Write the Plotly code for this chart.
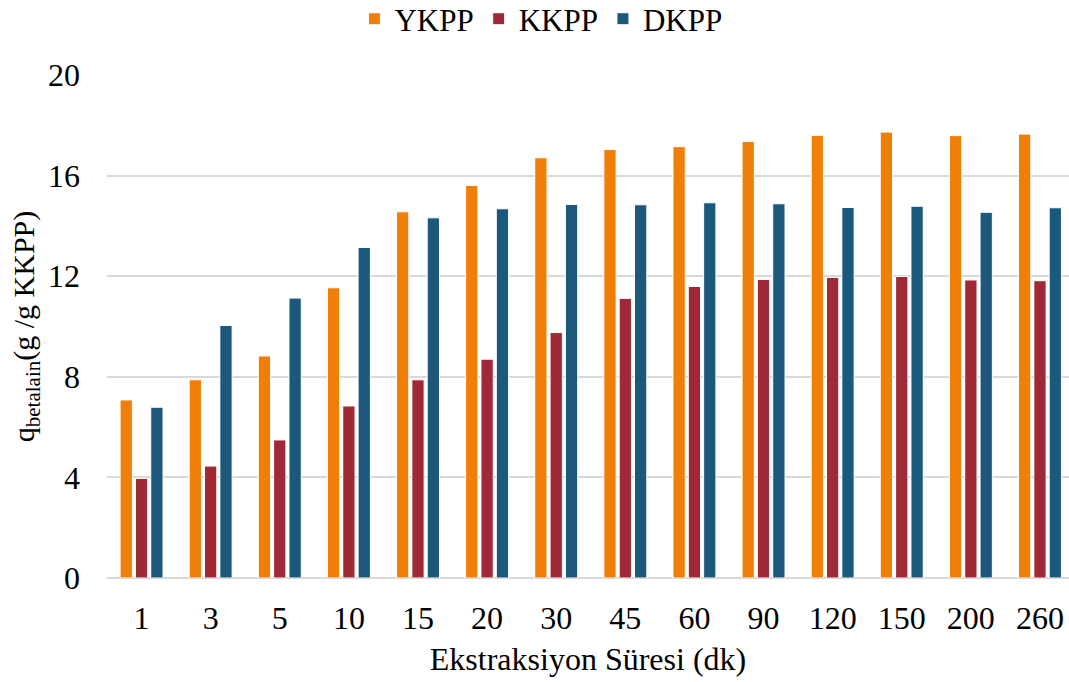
import plotly.graph_objects as go

categories = ["1", "3", "5", "10", "15", "20", "30", "45", "60", "90", "120", "150", "200", "260"]
ykpp = [7.08, 7.88, 8.83, 11.54, 14.56, 15.61, 16.71, 17.04, 17.15, 17.36, 17.60, 17.73, 17.59, 17.65]
kkpp = [3.96, 4.45, 5.49, 6.84, 7.88, 8.70, 9.76, 11.12, 11.59, 11.87, 11.95, 11.99, 11.85, 11.82]
dkpp = [6.79, 10.04, 11.13, 13.14, 14.32, 14.68, 14.85, 14.84, 14.92, 14.88, 14.73, 14.78, 14.54, 14.72]

series = [("YKPP", ykpp, "#F07F09"), ("KKPP", kkpp, "#9F2936"), ("DKPP", dkpp, "#1B587C")]

FONT = "'Liberation Serif', 'Times New Roman', Times, serif"

fig = go.Figure()
for name, vals, color in series:
    fig.add_trace(go.Bar(
        x=categories, y=vals, name=name,
        marker=dict(color=color, line=dict(color="white", width=1)),
    ))

fig.update_layout(
    width=1069, height=682,
    margin=dict(l=107, r=0, t=75, b=104, autoexpand=False),
    paper_bgcolor="white", plot_bgcolor="white",
    font=dict(family=FONT, size=32, color="black"),
    barmode="group", bargap=0.334, bargroupgap=0.2,
    legend=dict(orientation="h", xref="container", yref="container",
                x=0.506, xanchor="center", y=0.972, yanchor="middle",
                font=dict(family=FONT, size=31), itemwidth=30, traceorder="normal"),
    xaxis=dict(
        type="category", range=[-0.5, 13.42], showgrid=False, showline=False, ticks="",
        tickfont=dict(family=FONT, size=32), ticklabelstandoff=18,
        title=dict(text="Ekstraksiyon Süresi (dk)", font=dict(family=FONT, size=32), standoff=12),
    ),
    yaxis=dict(
        range=[0, 20], tickvals=[0, 4, 8, 12, 16, 20],
        showgrid=True, gridcolor="#D9D9D9", gridwidth=2,
        zeroline=True, zerolinecolor="#D9D9D9", zerolinewidth=2,
        showline=False, ticks="", tickfont=dict(family=FONT, size=32),
        ticklabelstandoff=26,
        title=dict(text="q<sub>betalain</sub>(g /g KKPP)", font=dict(family=FONT, size=30), standoff=4),
    ),
)

fig.write_html("out.html")
